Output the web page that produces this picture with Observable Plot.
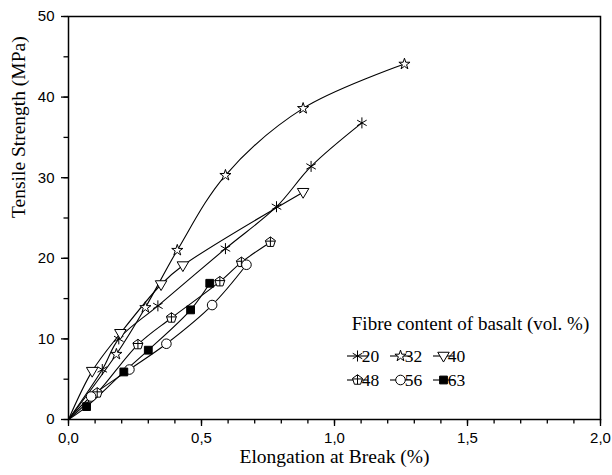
<!DOCTYPE html>
<html>
<head>
<meta charset="utf-8">
<script src="https://cdn.jsdelivr.net/npm/d3@7"></script>
<script src="https://cdn.jsdelivr.net/npm/@observablehq/plot@0.6"></script>
<style>
  html, body { margin: 0; padding: 0; background: #fff; }
  #chart { width: 612px; height: 475px; }
</style>
</head>
<body>
<div id="chart"></div>
<script>
// ---- data ----
const seriesNames = ["20", "32", "40", "48", "56", "63"];
const x20 = [0, 0.127, 0.189, 0.336, 0.590, 0.782, 0.912, 1.103];
const y20 = [0, 6.2, 10.0, 14.1, 21.2, 26.4, 31.4, 36.8];
const x32 = [0, 0.180, 0.289, 0.409, 0.590, 0.882, 1.263];
const y32 = [0, 8.1, 13.9, 21.0, 30.3, 38.6, 44.1];
const x40 = [0, 0.089, 0.195, 0.348, 0.430, 0.882];
const y40 = [0, 6.0, 10.7, 16.75, 19.1, 28.2];
const x48 = [0, 0.108, 0.261, 0.387, 0.569, 0.650, 0.759];
const y48 = [0, 3.3, 9.3, 12.6, 17.1, 19.5, 22.0];
const x56 = [0, 0.085, 0.229, 0.368, 0.540, 0.669];
const y56 = [0, 2.85, 6.2, 9.4, 14.2, 19.2];
const x63 = [0, 0.068, 0.208, 0.300, 0.459, 0.531];
const y63 = [0, 1.6, 5.9, 8.6, 13.6, 16.9];

const xMajorTicks = [0, 0.5, 1.0, 1.5, 2.0];
const yMajorTicks = [0, 10, 20, 30, 40, 50];
const xTitle = "Elongation at Break (%)";
const yTitle = "Tensile Strength (MPa)";
const legendTitle = "Fibre content of basalt (vol. %)";

// ---- custom symbols ----
const triangleDown = {
  draw(ctx, size) {
    const r = Math.sqrt(size / Math.PI) * 1.15;
    ctx.moveTo(-r, -r * 0.65);
    ctx.lineTo(r, -r * 0.65);
    ctx.lineTo(0, r * 1.05);
    ctx.closePath();
  }
};
const pentaPlus = {
  draw(ctx, size) {
    const r = Math.sqrt(size / Math.PI) * 1.05;
    for (let i = 0; i < 5; i++) {
      const a = -Math.PI / 2 + i * 2 * Math.PI / 5;
      const px = r * Math.cos(a), py = r * Math.sin(a);
      if (i === 0) ctx.moveTo(px, py); else ctx.lineTo(px, py);
    }
    ctx.closePath();
    ctx.moveTo(0, -r);
    ctx.lineTo(0, r * 0.8);
    ctx.moveTo(-r * 0.95, -r * 0.2);
    ctx.lineTo(r * 0.95, -r * 0.2);
  }
};

const styles = {
  "20": {symbol: "asterisk", fill: "none", r: 5.2},
  "32": {symbol: "star", fill: "white", r: 3.5},
  "40": {symbol: triangleDown, fill: "white", r: 5},
  "48": {symbol: pentaPlus, fill: "white", r: 5},
  "56": {symbol: "circle", fill: "white", r: 4.8},
  "63": {symbol: "square", fill: "black", r: 4.4}
};

const xsAll = {"20": x20, "32": x32, "40": x40, "48": x48, "56": x56, "63": x63};
const ysAll = {"20": y20, "32": y32, "40": y40, "48": y48, "56": y56, "63": y63};
const series = seriesNames.map(name => ({
  name,
  data: xsAll[name].map((x, i) => ({x, y: ysAll[name][i]}))
}));

const fmt = d => d.toFixed(1).replace(".", ",");
const sans = "'Liberation Sans', Arial, sans-serif";
const serif = "'Liberation Serif', 'Times New Roman', serif";

const marks = [];
for (const s of series) {
  marks.push(Plot.line(s.data, {x: "x", y: "y", curve: "catmull-rom", stroke: "black", strokeWidth: 1.1}));
}
for (const s of series) {
  const st = styles[s.name];
  marks.push(Plot.dot(s.data.filter(d => d.x > 0), {
    x: "x", y: "y", symbol: st.symbol, r: st.r, fill: st.fill, stroke: "black", strokeWidth: 1
  }));
}

marks.push(
  // minor ticks
  Plot.axisX(d3.range(0, 2.0001, 0.1), {tickSize: 4.5, text: null, label: null, strokeWidth: 1.3}),
  Plot.axisY(d3.range(0, 50.001, 5), {tickSize: 4.5, text: null, label: null, strokeWidth: 1.3}),
  // major ticks
  Plot.axisX(xMajorTicks, {tickSize: 7, tickPadding: 6, tickFormat: fmt, label: null, fontSize: 15, fontFamily: sans, strokeWidth: 1.3}),
  Plot.axisY(yMajorTicks, {tickSize: 7, tickPadding: 7, tickFormat: d => String(d), label: null, fontSize: 15, fontFamily: sans, strokeWidth: 1.3}),
  Plot.frame({stroke: "black", strokeWidth: 1.5}),
  Plot.text([xTitle], {frameAnchor: "bottom", dy: 43, fontSize: 19.5, fontFamily: serif, fill: "black"}),
  Plot.text([yTitle], {frameAnchor: "left", dx: -50, rotate: -90, fontSize: 19.5, fontFamily: serif, fill: "black"})
);

const chart = Plot.plot({
  width: 612,
  height: 475,
  marginLeft: 68,
  marginRight: 12,
  marginTop: 16,
  marginBottom: 56,
  style: {background: "white", color: "black", overflow: "visible"},
  x: {domain: [0, 2], axis: null},
  y: {domain: [0, 50], axis: null},
  marks
});

// ---- legend drawn inside the SVG ----
const svg = d3.select(chart);
const lg = svg.append("g").attr("font-family", serif).attr("fill", "black");
lg.append("text").attr("x", 470.5).attr("y", 330).attr("text-anchor", "middle")
  .attr("font-size", 19).text(legendTitle);
const rowY = [356, 380];
const colX = [347, 390, 433];
seriesNames.forEach((name, i) => {
  const st = styles[name];
  const x0 = colX[i % 3], y0 = rowY[Math.floor(i / 3)];
  lg.append("line").attr("x1", x0).attr("x2", x0 + 21).attr("y1", y0).attr("y2", y0)
    .attr("stroke", "black").attr("stroke-width", 1.1);
  const sym = typeof st.symbol === "string"
    ? {asterisk: d3.symbolAsterisk, star: d3.symbolStar, circle: d3.symbolCircle, square: d3.symbolSquare}[st.symbol]
    : st.symbol;
  lg.append("path").attr("d", d3.symbol(sym, st.r * st.r * Math.PI)())
    .attr("transform", `translate(${x0 + 10.5},${y0})`)
    .attr("fill", st.fill).attr("stroke", "black").attr("stroke-width", 1);
  lg.append("text").attr("x", x0 + 23.5).attr("y", y0 + 6).attr("font-size", 17.5).text(name);
});

document.getElementById("chart").appendChild(chart);
</script>
</body>
</html>
